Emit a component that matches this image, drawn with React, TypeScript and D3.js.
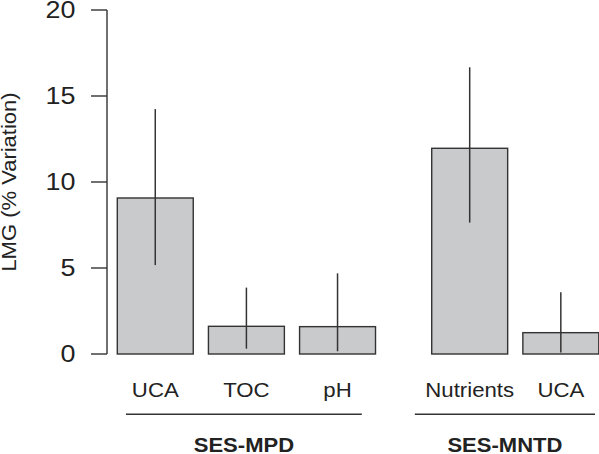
import React from "react";
import * as d3 from "d3";

const categories = ["UCA", "TOC", "pH", "Nutrients", "UCA"];
const groupOf = ["SES-MPD", "SES-MPD", "SES-MPD", "SES-MNTD", "SES-MNTD"];
const groupNames = ["SES-MPD", "SES-MNTD"];
const values = [9.07, 1.61, 1.59, 11.96, 1.24];
const lower = [5.17, 0.31, 0.16, 7.64, 0.08];
const upper = [14.24, 3.86, 4.69, 16.67, 3.59];
const yTicks = [0, 5, 10, 15, 20];

const W = 599;
const H = 454;
const FONT = "'Liberation Sans', Arial, Helvetica, sans-serif";

// R-style barplot layout (units of bar width)
const space = [0.2, 0.2, 0.2, 0.74, 0.2];
// group underline extents, relative to first bar start / last bar start (units)
const groupLineOffsets = [
  [0.114, 0.82],
  [-0.222, 0.95],
];
const starts: number[] = [];
{
  let acc = 0;
  for (let i = 0; i < categories.length; i++) {
    acc += space[i];
    starts.push(acc);
    acc += 1;
  }
}
const xMaxUnit = starts[starts.length - 1] + 1;

function SText(props: {
  x: number;
  y: number;
  sx: number;
  rotate?: number;
  anchor: string;
  size: number;
  bold?: boolean;
  dy?: string;
  children: React.ReactNode;
}) {
  const { x, y, sx, rotate, anchor, size, bold, dy, children } = props;
  return (
    <g transform={`translate(${x},${y})${rotate ? ` rotate(${rotate})` : ""}`}>
      <text
        transform={`scale(${sx},1)`}
        textAnchor={anchor}
        fontSize={size}
        fontWeight={bold ? "bold" : "normal"}
        dy={dy}
        fill="#222"
      >
        {children}
      </text>
    </g>
  );
}

export default function App() {
  const x = d3.scaleLinear().domain([0.2, xMaxUnit]).range([117.3, 598.8]);
  const y = d3.scaleLinear().domain([0, 20]).range([354, 10]);
  const axisX = 107;
  const stroke = "#333333";

  const groups = groupNames.map((g, gi) => {
    const idx = groupOf.map((v, i) => (v === g ? i : -1)).filter((i) => i >= 0);
    const first = idx[0];
    const last = idx[idx.length - 1];
    return {
      name: g,
      x0: x(starts[first] + groupLineOffsets[gi][0]),
      x1: x(starts[last] + groupLineOffsets[gi][1]),
    };
  });

  return (
    <svg
      width={W}
      height={H}
      style={{ position: "absolute", left: 0, top: 0, background: "#fff" }}
      fontFamily={FONT}
    >
      {/* y axis */}
      <line x1={axisX} x2={axisX} y1={y(0)} y2={y(20)} stroke={stroke} strokeWidth={1.4} />
      {yTicks.map((t) => (
        <g key={t}>
          <line x1={axisX - 16} x2={axisX} y1={y(t)} y2={y(t)} stroke={stroke} strokeWidth={1.4} />
          <SText x={75.5} y={y(t)} sx={1.17} anchor="end" size={23} dy="0.36em">
            {t}
          </SText>
        </g>
      ))}
      <SText
        x={16}
        y={(y(0) + y(20)) / 2}
        sx={1.1}
        rotate={-90}
        anchor="middle"
        size={20}
      >
        LMG (% Variation)
      </SText>

      {/* bars */}
      {values.map((v, i) => (
        <rect
          key={"b" + i}
          x={x(starts[i])}
          y={y(v)}
          width={x(starts[i] + 1) - x(starts[i])}
          height={y(0) - y(v)}
          fill="#c9cacc"
          stroke={stroke}
          strokeWidth={1.4}
        />
      ))}
      {/* error bars */}
      {values.map((v, i) => (
        <line
          key={"e" + i}
          x1={x(starts[i] + 0.5)}
          x2={x(starts[i] + 0.5)}
          y1={y(lower[i])}
          y2={y(upper[i])}
          stroke={stroke}
          strokeWidth={1.5}
        />
      ))}
      {/* category labels */}
      {categories.map((c, i) => (
        <SText
          key={"c" + i}
          x={x(starts[i] + 0.5)}
          y={396.8}
          sx={1.11}
          anchor="middle"
          size={20}
        >
          {c}
        </SText>
      ))}
      {/* group lines and labels */}
      {groups.map((g) => (
        <g key={g.name}>
          <line x1={g.x0} x2={g.x1} y1={414.3} y2={414.3} stroke={stroke} strokeWidth={1.4} />
          <SText
            x={(g.x0 + g.x1) / 2}
            y={452.3}
            sx={1.13}
            anchor="middle"
            size={19.5}
            bold
          >
            {g.name}
          </SText>
        </g>
      ))}
    </svg>
  );
}
